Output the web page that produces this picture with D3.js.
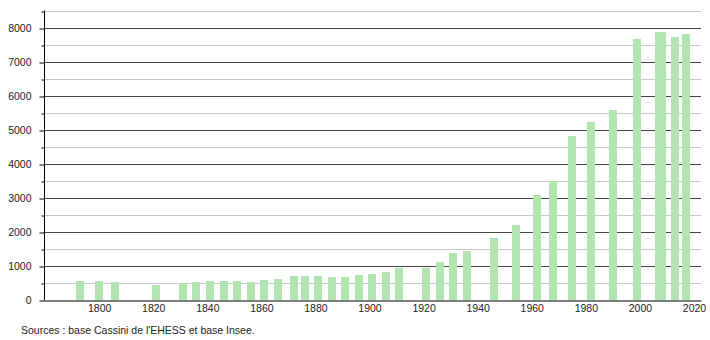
<!DOCTYPE html>
<html>
<head>
<meta charset="utf-8">
<script src="https://cdn.jsdelivr.net/npm/d3@7"></script>
<style>
  body { margin: 0; background: #fff; }
  text { font-family: "Liberation Sans", Arial, sans-serif; fill: #222; }
</style>
</head>
<body>
<script>
// census years and population
var years = [1793, 1800, 1806, 1821, 1831, 1836, 1841, 1846, 1851, 1856,
  1861, 1866, 1872, 1876, 1881, 1886, 1891, 1896, 1901, 1906,
  1911, 1921, 1926, 1931, 1936, 1946, 1954, 1962, 1968, 1975,
  1982, 1990, 1999, 2007, 2008, 2013, 2017]
var population = [568, 568, 538, 450, 500, 538, 568, 568, 568, 538,
  597, 627, 715, 715, 715, 685, 685, 745, 774, 833,
  950, 950, 1127, 1392, 1450, 1832, 2215, 3097, 3500, 4832,
  5244, 5597, 7685, 7891, 7891, 7744, 7832]
var yTicks = [0, 1000, 2000, 3000, 4000, 5000, 6000, 7000, 8000]
var xTicks = [1800, 1820, 1840, 1860, 1880, 1900, 1920, 1940, 1960, 1980, 2000, 2020]
var source = "Sources : base Cassini de l'EHESS et base Insee."

var width = 710, height = 340
var plotLeft = 44, plotRight = 701, plotBottom = 300, plotTop = 11

var x = d3.scaleLinear().domain([1779.6, 2022.6]).range([plotLeft, plotRight])
var y = d3.scaleLinear().domain([0, 8500]).range([plotBottom, plotTop])

const svg = d3.select("body").append("svg")
    .attr("width", width)
    .attr("height", height)

// grid
const grid = svg.append("g")
d3.range(500, 8501, 500).forEach(function(v) {
  grid.append("line")
      .attr("x1", plotLeft).attr("x2", plotRight)
      .attr("y1", Math.round(y(v)) + 0.5).attr("y2", Math.round(y(v)) + 0.5)
      .attr("stroke", v % 1000 === 0 ? "#444" : "#c8c8c8")
      .attr("stroke-width", 1)
})

// bars
svg.append("g")
  .selectAll("rect")
  .data(years)
  .join("rect")
    .attr("x", (d) => Math.round(x(d)) - 4)
    .attr("width", 8)
    .attr("y", (d, i) => Math.round(y(population[i])))
    .attr("height", (d, i) => plotBottom - Math.round(y(population[i])))
    .attr("fill", "#b3e5b3")

// y axis
const yAxis = svg.append("g")
    .attr("transform", "translate(" + (plotLeft + 0.5) + ",0.5)")
    .call(d3.axisLeft(y).tickValues(yTicks).tickSize(5).tickSizeOuter(0).tickPadding(8).tickFormat(d3.format("d")))
yAxis.select(".domain").attr("d", "M0," + (plotTop - 1) + "V" + plotBottom).attr("stroke", "#000")
yAxis.selectAll(".tick line").attr("stroke", "#000")
yAxis.selectAll("text").attr("font-size", "10.5px").attr("font-family", null).attr("fill", "#222")

svg.append("g")
    .attr("transform", "translate(" + (plotLeft + 0.5) + ",0.5)")
    .call(d3.axisLeft(y).tickValues(d3.range(500, 8501, 1000)).tickSize(3).tickFormat(""))
    .call((g) => g.select(".domain").remove())

// x axis
const xAxis = svg.append("g")
    .attr("transform", "translate(0," + (plotBottom + 0.5) + ")")
    .call(d3.axisBottom(x).tickValues(xTicks).tickSize(0).tickSizeOuter(0).tickPadding(4).tickFormat(d3.format("d")))
xAxis.select(".domain").attr("stroke", "#000")
xAxis.selectAll("text").attr("font-size", "10.5px").attr("font-family", null).attr("fill", "#222")

svg.append("text")
    .attr("x", 21)
    .attr("y", 334)
    .attr("font-size", "10.5px")
    .text(source)
</script>
</body>
</html>
